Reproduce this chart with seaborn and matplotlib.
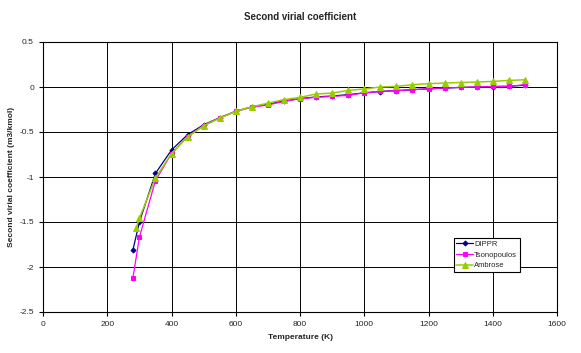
import numpy as np
import pandas as pd
import seaborn as sns
import matplotlib.pyplot as plt

# temperatures (K)
temp = [280, 300, 350, 400, 450, 500, 550, 600, 650, 700, 750, 800, 850, 900, 950,
        1000, 1050, 1100, 1150, 1200, 1250, 1300, 1350, 1400, 1450, 1500]
temp_ambrose = [290, 300, 350, 400, 450, 500, 550, 600, 650, 700, 750, 800, 850, 900, 950,
                1000, 1050, 1100, 1150, 1200, 1250, 1300, 1350, 1400, 1450, 1500]

dippr = [-1.81, -1.50, -0.96, -0.70, -0.53, -0.42, -0.34, -0.27, -0.22, -0.19, -0.155, -0.13,
         -0.11, -0.10, -0.085, -0.065, -0.05, -0.04, -0.03, -0.02, -0.012, -0.005, 0.0,
         0.004, 0.008, 0.02]
tsonopoulos = [-2.12, -1.67, -1.04, -0.74, -0.55, -0.43, -0.345, -0.27, -0.225, -0.20, -0.16,
               -0.13, -0.115, -0.104, -0.093, -0.065, -0.049, -0.041, -0.03, -0.019, -0.011,
               -0.004, 0.0, 0.007, 0.007, 0.026]
ambrose = [-1.57, -1.46, -1.01, -0.74, -0.555, -0.43, -0.345, -0.27, -0.22, -0.18, -0.14,
           -0.115, -0.078, -0.067, -0.038, -0.022, 0.0, 0.007, 0.026, 0.037, 0.044, 0.05,
           0.055, 0.062, 0.073, 0.08]

sns.set_style("white")
plt.rcParams['font.family'] = ['Liberation Sans', 'DejaVu Sans']

fig = plt.figure(figsize=(5.81, 3.53), dpi=100)
ax = fig.add_axes([43 / 581, 1 - 312 / 353, 514 / 581, 270 / 353])

sns.lineplot(x=temp, y=dippr, ax=ax, color="#000080", marker="D", markersize=2.5,
             linewidth=0.9, label="DIPPR", markeredgecolor="#000080")
sns.lineplot(x=temp, y=tsonopoulos, ax=ax, color="#FF00FF", marker="s", markersize=3.5,
             linewidth=0.9, label="Tsonopoulos", markeredgecolor="#FF00FF")
sns.lineplot(x=temp_ambrose, y=ambrose, ax=ax, color="#99CC00", marker="^", markersize=4.5,
             linewidth=1.1, label="Ambrose", markeredgecolor="#99CC00")

ax.set_xlim(0, 1600)
ax.set_ylim(-2.5, 0.5)
ax.set_xticks(np.arange(0, 1601, 200))
ax.set_yticks(np.arange(-2.5, 0.51, 0.5))
ax.set_yticklabels(["-2.5", "-2", "-1.5", "-1", "-0.5", "0", "0.5"])
ax.grid(True, color="black", linewidth=0.7)
ax.set_axisbelow(True)
for s in ax.spines.values():
    s.set_color("black")
    s.set_linewidth(0.8)
ax.tick_params(axis="both", labelsize=6, length=3, direction="out", color="black",
               bottom=True, left=True)

ax.set_title("Second virial coefficient", fontsize=7, fontweight="bold", pad=16)
ax.set_xlabel("Temperature (K)", fontsize=6, fontweight="bold", labelpad=4)
ax.set_ylabel("Second virial coefficient (m3/kmol)", fontsize=6, fontweight="bold", labelpad=3)

leg = ax.legend(loc="upper left", bbox_to_anchor=(407 / 514, (312 - 234) / 270),
                fontsize=5.5, frameon=True, fancybox=False, edgecolor="black",
                framealpha=1, borderpad=0.35, handlelength=2.2, labelspacing=0.45,
                handletextpad=0.1)
leg.get_frame().set_linewidth(0.8)

plt.savefig("out.png", dpi=100)
